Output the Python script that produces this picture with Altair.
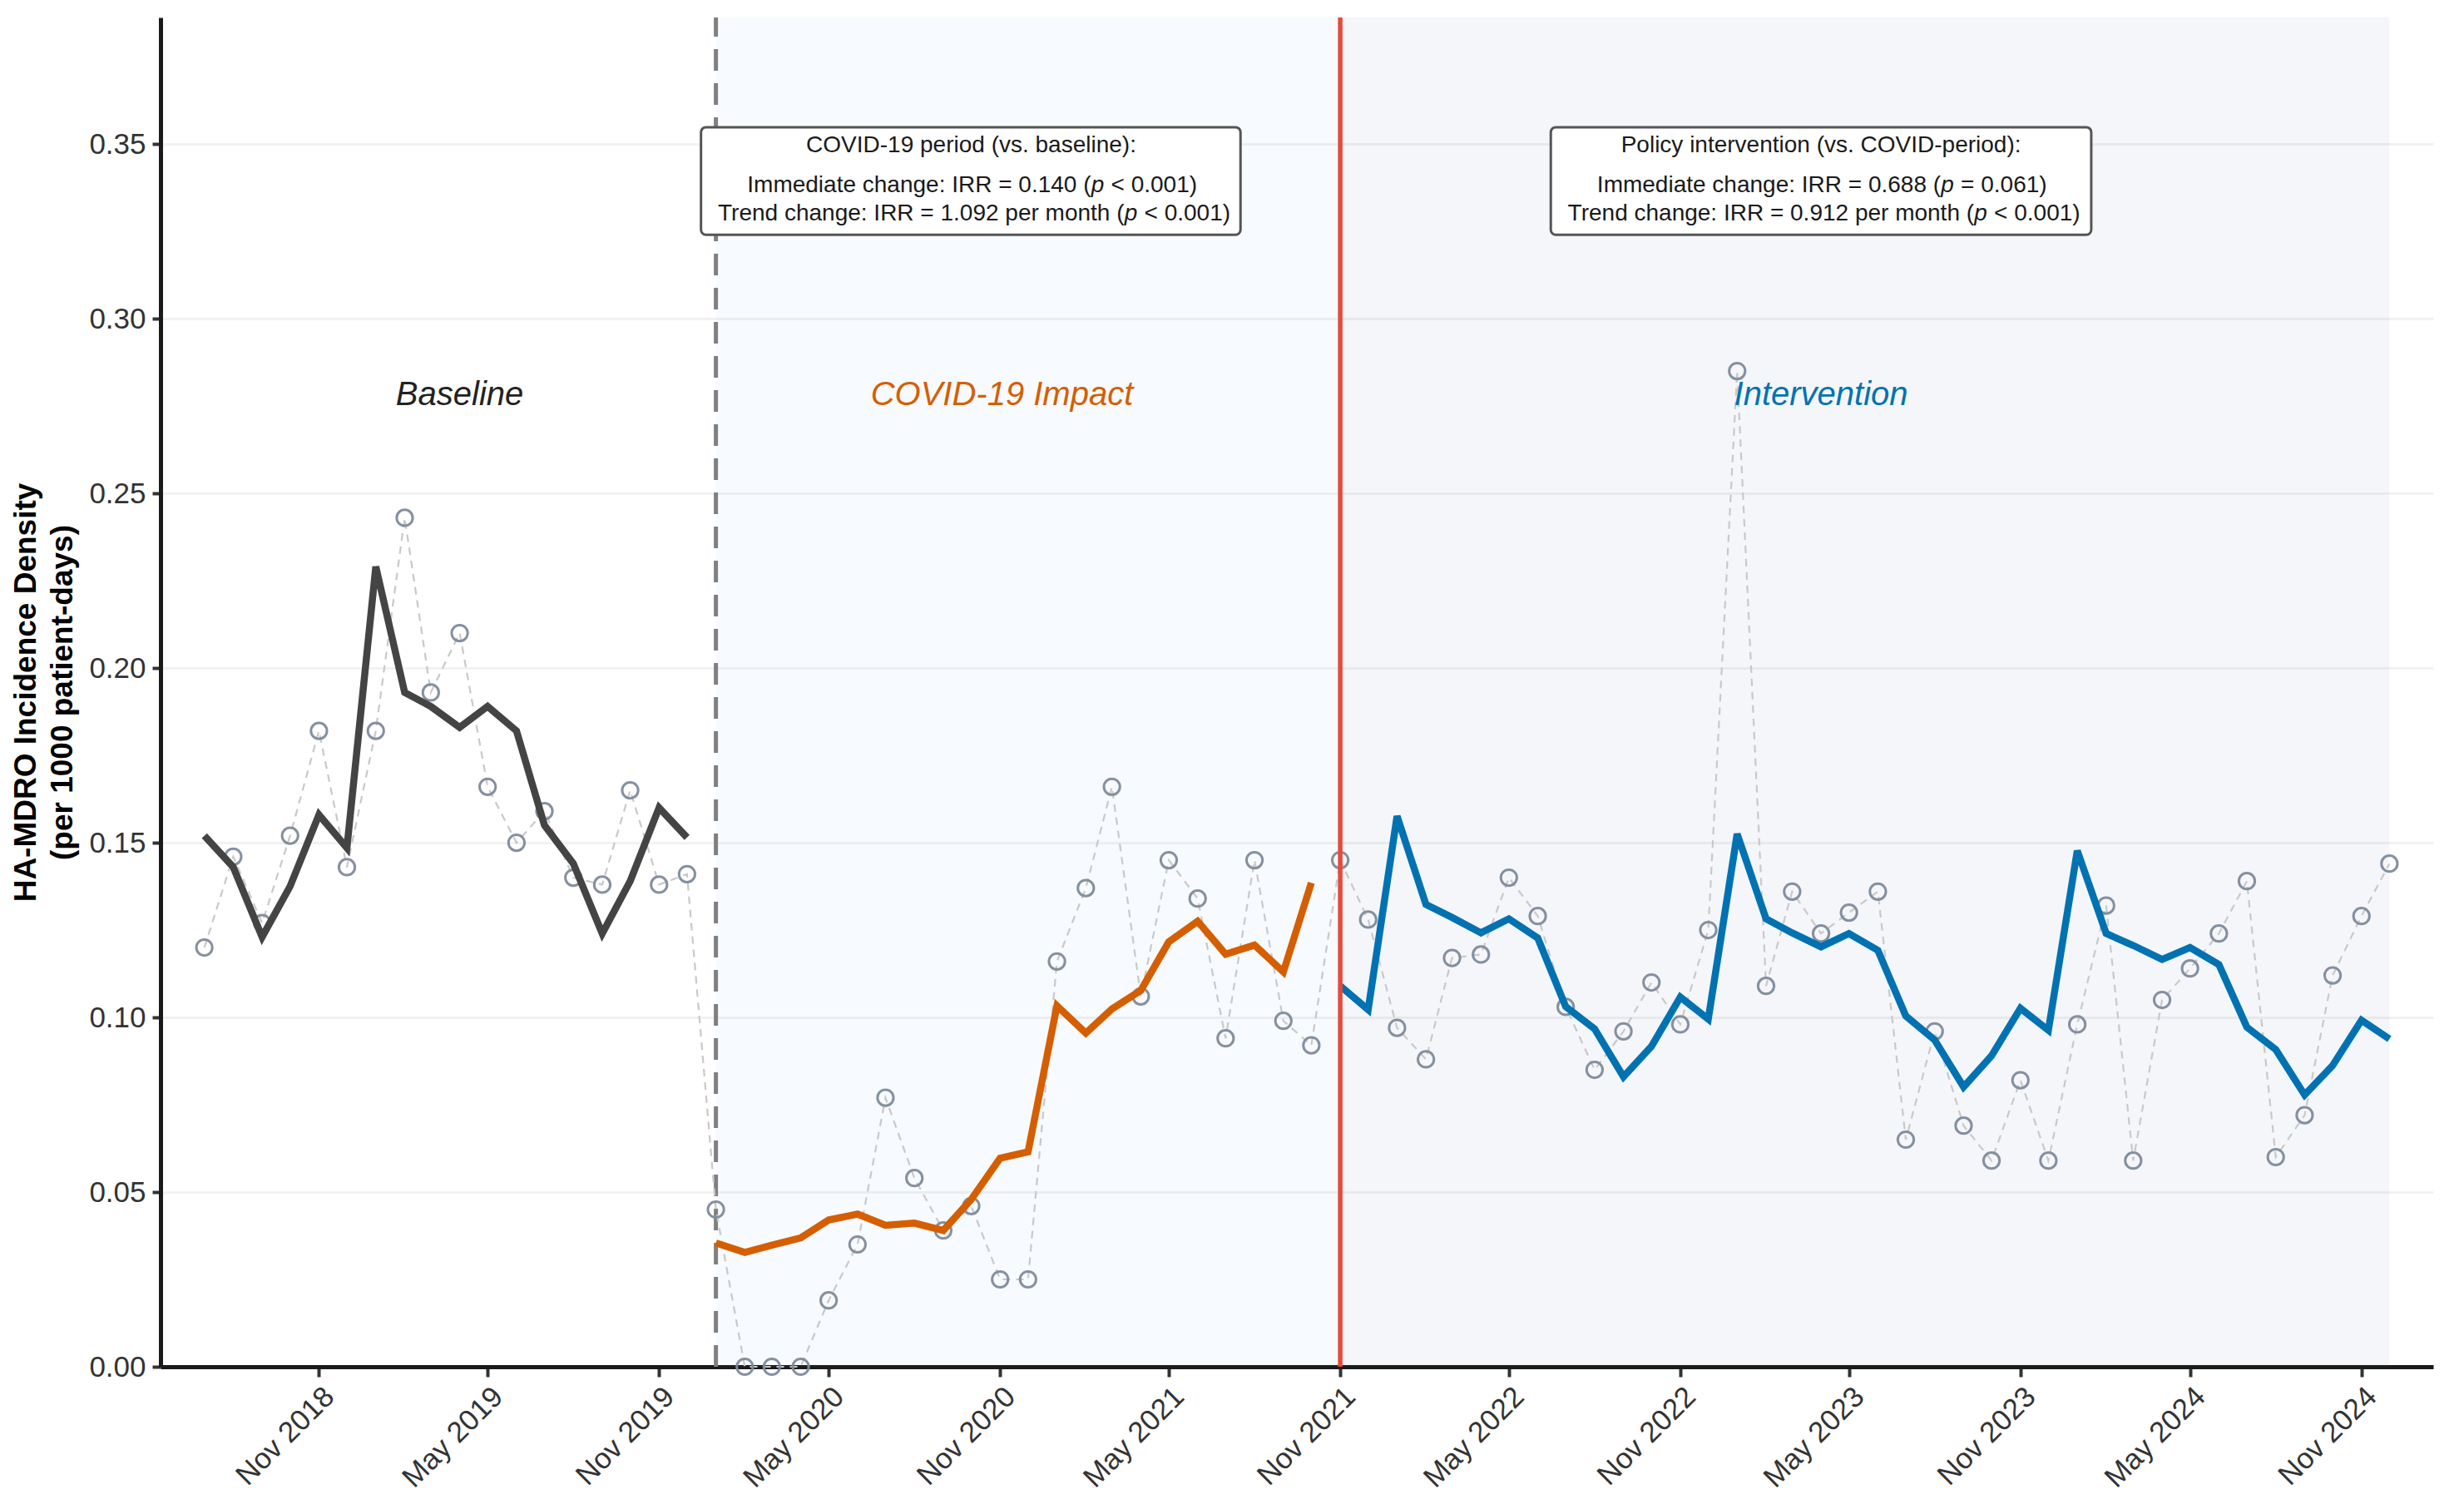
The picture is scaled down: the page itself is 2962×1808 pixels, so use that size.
import altair as alt
import pandas as pd

# ---------------- data ----------------
months = pd.date_range("2018-07-01", "2024-12-01", freq="MS")  # 78 monthly points

observed = [
    0.120, 0.146, 0.127, 0.152, 0.182, 0.143, 0.182, 0.243, 0.193, 0.210,
    0.166, 0.150, 0.159, 0.140, 0.138, 0.165, 0.138, 0.141,
    0.045, 0.000, 0.000, 0.000, 0.019, 0.035, 0.077, 0.054, 0.039, 0.046,
    0.025, 0.025, 0.116, 0.137, 0.166, 0.106, 0.145, 0.134, 0.094, 0.145,
    0.099, 0.092,
    0.145, 0.128, 0.097, 0.088, 0.117, 0.118, 0.140, 0.129, 0.103, 0.085,
    0.096, 0.110, 0.098, 0.125, 0.285, 0.109, 0.136, 0.124, 0.130, 0.136,
    0.065, 0.096, 0.069, 0.059, 0.082, 0.059, 0.098, 0.132, 0.059, 0.105,
    0.114, 0.124, 0.139, 0.060, 0.072, 0.112, 0.129, 0.144,
]

baseline_fit = [
    0.152, 0.143, 0.123, 0.1375, 0.158, 0.1485, 0.229, 0.193, 0.189, 0.183,
    0.189, 0.182, 0.155, 0.144, 0.124, 0.139, 0.160, 0.1515,
]
covid_fit = [
    0.0354, 0.0327, 0.0348, 0.0369, 0.0420, 0.0437, 0.0405, 0.0411, 0.0390,
    0.0479, 0.0597, 0.0615, 0.1033, 0.0955, 0.1024, 0.1077, 0.1216, 0.1275,
    0.1181, 0.1207, 0.1130, 0.1385,
]
intervention_fit = [
    0.1090, 0.1022, 0.1576, 0.1323, 0.1286, 0.1242, 0.1282, 0.1227, 0.1031,
    0.0967, 0.0830, 0.0917, 0.1058, 0.0995, 0.1525, 0.1282, 0.1242, 0.1202,
    0.1240, 0.1192, 0.1004, 0.0935, 0.0801, 0.0890, 0.1026, 0.0963, 0.1477,
    0.1240, 0.1206, 0.1166, 0.1200, 0.1151, 0.0972, 0.0908, 0.0778, 0.0862,
    0.0992, 0.0938,
]
phase_names = ["Baseline", "COVID-19 Impact", "Intervention"]
phase_colors = ["#444444", "#D55E00", "#0072B2"]

y_ticks = [0.00, 0.05, 0.10, 0.15, 0.20, 0.25, 0.30, 0.35]
x_tick_months = [(2018, 11), (2019, 5), (2019, 11), (2020, 5), (2020, 11),
                 (2021, 5), (2021, 11), (2022, 5), (2022, 11), (2023, 5),
                 (2023, 11), (2024, 5), (2024, 11)]

covid_start = pd.Timestamp("2020-01-01")
intervention_start = pd.Timestamp("2021-11-01")
last_month = pd.Timestamp("2024-12-01")

box_titles = ["COVID-19 period (vs. baseline):", "Policy intervention (vs. COVID-period):"]
box_line2_pre = ["Immediate change: IRR = 0.140 (", "Immediate change: IRR = 0.688 ("]
box_line2_post = ["< 0.001)", "= 0.061)"]
box_line3_pre = ["Trend change: IRR = 1.092 per month (", "Trend change: IRR = 0.912 per month ("]
box_line3_post = ["< 0.001)", "< 0.001)"]
box_center = [pd.Timestamp("2020-10-01"), pd.Timestamp("2023-04-01")]
box_left = [pd.Timestamp("2019-12-16"), pd.Timestamp("2022-06-15")]
box_right = [pd.Timestamp("2021-07-17"), pd.Timestamp("2024-01-16")]
box_bottom, box_top = 0.324, 0.3548
line_y = [0.3495, 0.3381, 0.3300]

label_dates = [pd.Timestamp("2019-04-01"), pd.Timestamp("2020-11-03"), pd.Timestamp("2023-04-01")]
label_y = 0.278

# ---------------- layout ----------------
PLOT_W, PLOT_H = 2732, 1622
Y_MAX = 0.3862
FONT = "Liberation Sans"

n_b, n_c = len(baseline_fit), len(covid_fit)
obs_df = pd.DataFrame({"date": months, "value": observed})
fit_df = pd.DataFrame({
    "date": months,
    "value": baseline_fit + covid_fit + intervention_fit,
    "phase": [phase_names[0]] * n_b + [phase_names[1]] * n_c
             + [phase_names[2]] * len(intervention_fit),
})

x_scale = alt.Scale(domain=[alt.DateTime(year=2018, month=5, date=15),
                            alt.DateTime(year=2025, month=1, date=17)])
y_scale = alt.Scale(domain=[0, Y_MAX], nice=False, zero=False)

x_axis = alt.Axis(
    values=[alt.DateTime(year=y, month=m, date=1) for y, m in x_tick_months],
    format="%b %Y", labelAngle=315, labelAlign="right", labelBaseline="top",
    labelFontSize=35, labelColor="#333333", labelPadding=6, labelFont=FONT,
    tickSize=12, tickWidth=4, tickColor="#333333",
    domainColor="#1a1a1a", domainWidth=5, grid=False, title=None,
    labelOverlap=False,
)
y_axis = alt.Axis(
    values=y_ticks, format=".2f", labelFontSize=35, labelColor="#333333",
    labelPadding=8, labelFont=FONT, tickSize=10, tickWidth=4, tickColor="#333333",
    domainColor="#1a1a1a", domainWidth=5, grid=True, gridColor="#F2F2F2",
    gridWidth=3, title=["HA-MDRO Incidence Density", "(per 1000 patient-days)"],
    titleFontSize=37, titleFontWeight="bold", titleColor="black", titleFont=FONT,
    titlePadding=12, titleLineHeight=44,
)


def X(field="date"):
    return alt.X(f"{field}:T", scale=x_scale, axis=x_axis)


def Y(field="value"):
    return alt.Y(f"{field}:Q", scale=y_scale, axis=y_axis)


# shading
shade_df = pd.DataFrame({
    "start": [covid_start, intervention_start],
    "end": [intervention_start, last_month],
    "y0": [0.0, 0.0], "y1": [Y_MAX, Y_MAX],
    "period": ["covid", "intervention"],
})
shade = alt.Chart(shade_df).mark_rect().encode(
    x=X("start"), x2="end:T", y=Y("y0"), y2="y1:Q",
    fill=alt.Fill("period:N", scale=alt.Scale(domain=["covid", "intervention"],
                                               range=["#5DA5E8", "#3F5F9F"]),
                  legend=None),
    opacity=alt.Opacity("period:N", scale=alt.Scale(domain=["covid", "intervention"],
                                                     range=[0.05, 0.06]),
                        legend=None),
)

vline_df = pd.DataFrame({"date": [covid_start], "y0": [0.0], "y1": [Y_MAX]})
dashed_v = alt.Chart(vline_df).mark_rule(color="#808080", strokeWidth=5,
                                         strokeDash=[26, 15]).encode(
    x=X(), y=Y("y0"), y2="y1:Q")

red_df = pd.DataFrame({"date": [intervention_start], "y0": [0.0], "y1": [Y_MAX]})
red_v = alt.Chart(red_df).mark_rule(color="#E64A3B", strokeWidth=5.5).encode(
    x=X(), y=Y("y0"), y2="y1:Q")

obs_line = alt.Chart(obs_df).mark_line(color="#C9C9C9", strokeWidth=2.2,
                                       strokeDash=[9, 7]).encode(x=X(), y=Y())
obs_pts = alt.Chart(obs_df).mark_point(shape="circle", filled=False, size=370,
                                       strokeWidth=3, color="#7F8B9C",
                                       opacity=0.95).encode(x=X(), y=Y())

fit_lines = alt.Chart(fit_df).mark_line(strokeWidth=8.5, strokeJoin="miter").encode(
    x=X(), y=Y(),
    color=alt.Color("phase:N", scale=alt.Scale(domain=phase_names, range=phase_colors),
                    legend=None),
)

# annotation boxes
box_df = pd.DataFrame({"x0": box_left, "x1": box_right,
                       "y0": [box_bottom] * 2, "y1": [box_top] * 2})
boxes = alt.Chart(box_df).mark_rect(fill="white", stroke="#555555", strokeWidth=3,
                                    cornerRadius=6).encode(
    x=X("x0"), x2="x1:T", y=Y("y0"), y2="y1:Q")

BOX_FS = 28
txt_kw = dict(font=FONT, fontSize=BOX_FS, color="#1a1a1a", baseline="middle")

title_df = pd.DataFrame({"date": box_center, "value": [line_y[0]] * 2, "t": box_titles})
box_title = alt.Chart(title_df).mark_text(align="center", **txt_kw).encode(
    x=X(), y=Y(), text="t:N")

layers_txt = []
for pre, post, yy, pdx in [(box_line2_pre, box_line2_post, line_y[1], 152),
                           (box_line3_pre, box_line3_post, line_y[2], 192)]:
    d_pre = pd.DataFrame({"date": box_center, "value": [yy] * 2, "t": pre})
    d_p = pd.DataFrame({"date": box_center, "value": [yy] * 2, "t": ["p", "p"]})
    d_post = pd.DataFrame({"date": box_center, "value": [yy] * 2, "t": post})
    layers_txt.append(alt.Chart(d_pre).mark_text(align="right", dx=pdx - 8, **txt_kw)
                      .encode(x=X(), y=Y(), text="t:N"))
    layers_txt.append(alt.Chart(d_p).mark_text(align="center", dx=pdx,
                                               fontStyle="italic", **txt_kw)
                      .encode(x=X(), y=Y(), text="t:N"))
    layers_txt.append(alt.Chart(d_post).mark_text(align="left", dx=pdx + 16, **txt_kw)
                      .encode(x=X(), y=Y(), text="t:N"))

lab_df = pd.DataFrame({"date": label_dates, "value": [label_y] * 3, "phase": phase_names})
region_labels = alt.Chart(lab_df).mark_text(font=FONT, fontSize=40, fontStyle="italic",
                                            align="center", baseline="middle").encode(
    x=X(), y=Y(), text="phase:N",
    color=alt.Color("phase:N", scale=alt.Scale(domain=phase_names,
                                               range=["#222222", "#D55E00", "#0072B2"]),
                    legend=None),
)

chart = alt.layer(
    shade, dashed_v, obs_line, obs_pts, fit_lines, red_v, boxes, box_title,
    *layers_txt, region_labels,
).resolve_scale(color="independent").properties(
    width=PLOT_W, height=PLOT_H,
    autosize=alt.AutoSizeParams(type="none"),
    padding={"left": 185, "top": 13, "right": 25, "bottom": 160},
).configure(font=FONT).configure_view(strokeWidth=0)

chart.save("out.html", embed_options={"renderer": "svg", "actions": False})
